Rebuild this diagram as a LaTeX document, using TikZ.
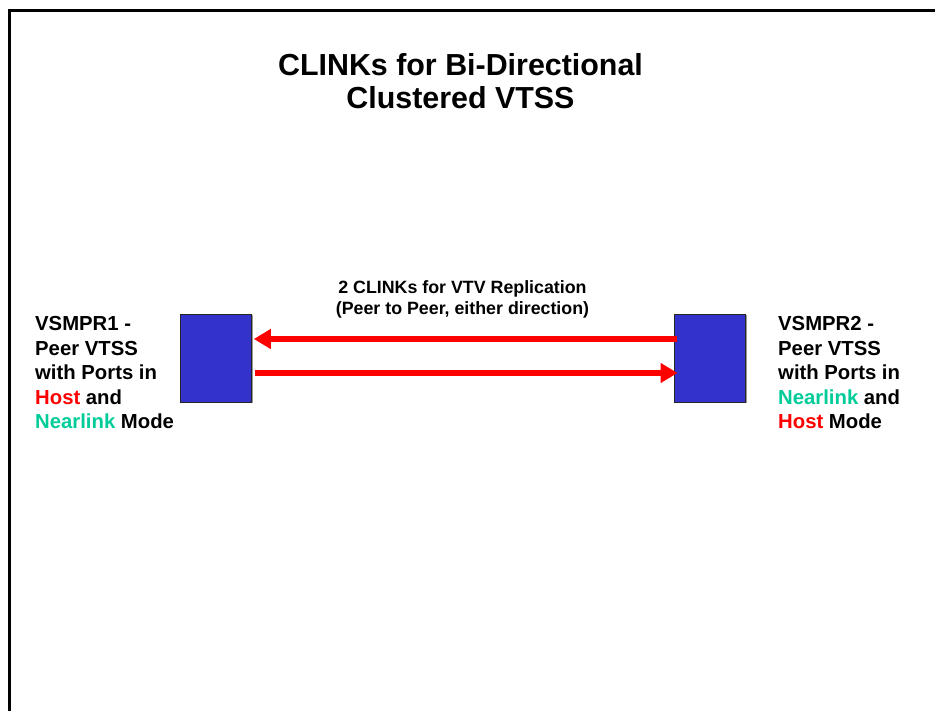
\documentclass[tikz,border=0pt]{standalone}
\usepackage{fontspec}
\setmainfont{Liberation Sans}
\usetikzlibrary{arrows.meta,shadows}
\definecolor{boxblue}{RGB}{51,51,204}
\definecolor{linkred}{RGB}{255,0,0}
\definecolor{neargreen}{RGB}{0,204,153}
\tikzset{
  vtss/.style={draw=black!85, line width=0.9pt, fill=boxblue, minimum width=71.5pt,
    minimum height=88pt, inner sep=0pt,
    drop shadow={shadow xshift=1.2pt, shadow yshift=-1.2pt, fill=gray!80, opacity=1}},
  link/.style={draw=linkred, line width=6.8pt,
    -{Triangle[length=17pt,width=19pt]}},
  sidelabel/.style={anchor=north west, inner sep=0pt, align=left,
    font=\fontsize{20.3}{24.4}\selectfont\bfseries},
  title/.style={anchor=north, inner sep=0pt, align=center,
    font=\fontsize{30.4}{33}\selectfont\bfseries},
  caption/.style={anchor=north, inner sep=0pt, align=center,
    font=\fontsize{17.8}{21}\selectfont\bfseries}
}
\begin{document}
\begin{tikzpicture}[x=1pt,y=-1pt]
\useasboundingbox (0,0) rectangle (935,711);
\fill[white] (0,0) rectangle (935,711);
% slide frame
\draw[line width=3pt] (9.5,730) -- (9.5,10.5) -- (950,10.5);

\node[title] (ttl) at (460.5,53.5) {CLINKs for Bi-Directional\\Clustered VTSS};

\node[caption] (cap) at (462.5,280) {2 CLINKs for VTV Replication\\(Peer to Peer, either direction)};

\node[vtss] (r1) at (216,358) {};
\node[vtss] (r2) at (710,358) {};

\draw[link] ([xshift=3pt,yshift=19pt]r2.west) -- ([xshift=1.6pt,yshift=19pt]r1.east);
\draw[link] ([xshift=2.5pt,yshift=-15pt]r1.east) -- ([xshift=3.8pt,yshift=-15pt]r2.west);

\node[sidelabel] (l1) at (35,316.5) {VSMPR1 -\\Peer VTSS\\with Ports in\\\textcolor{linkred}{Host} and\\\textcolor{neargreen}{Nearlink} Mode};
\node[sidelabel] (l2) at (778,316.5) {VSMPR2 -\\Peer VTSS\\with Ports in\\\textcolor{neargreen}{Nearlink} and\\\textcolor{linkred}{Host} Mode};
\end{tikzpicture}
\end{document}
